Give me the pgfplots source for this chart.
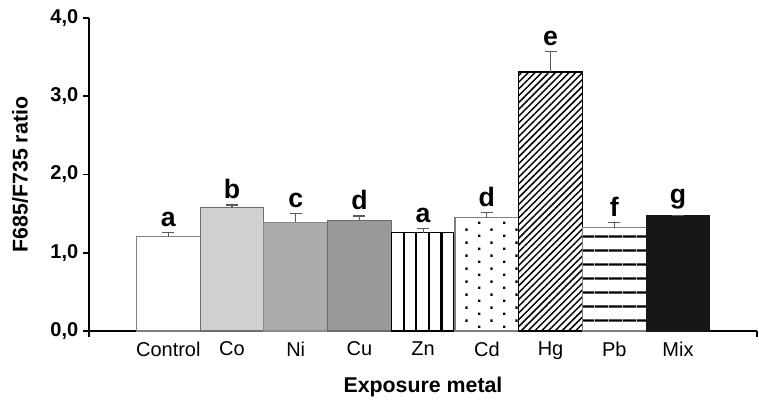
\documentclass[border=0pt]{standalone}
\usepackage{pgfplots}
\pgfplotsset{compat=1.18}
\usepackage{fontspec}
\setmainfont{Liberation Sans}
\usetikzlibrary{patterns,patterns.meta}
\definecolor{cco}{HTML}{D0D0D0}
\definecolor{cni}{HTML}{ABABAB}
\definecolor{ccu}{HTML}{999999}
\definecolor{cmix}{HTML}{161616}
\definecolor{edge}{HTML}{6E6E6E}
\definecolor{errc}{HTML}{5A5A5A}
\pgfdeclarepatternformonly{cddots}{\pgfpointorigin}{\pgfqpoint{18.9pt}{9.5pt}}{\pgfqpoint{18.9pt}{9.5pt}}{%
  \pgfpathrectangle{\pgfqpoint{0pt}{0pt}}{\pgfqpoint{1.8pt}{1.8pt}}%
  \pgfpathrectangle{\pgfqpoint{9.45pt}{4.75pt}}{\pgfqpoint{1.8pt}{1.8pt}}%
  \pgfusepath{fill}}
\pgfplotsset{
  mybar/.style={ybar, bar width=47.8pt, bar shift=0pt, draw=edge, line width=0.8pt,
    error bars/y dir=plus, error bars/y explicit,
    error bars/error bar style={errc, line width=0.8pt},
    error bars/error mark options={rotate=90, errc, line width=0.8pt, mark size=4.5pt}},
}
\begin{document}
\begin{tikzpicture}
\begin{axis}[
  scale only axis, width=501pt, height=234.75pt,
  xmin=-1.245, xmax=9.24, ymin=0, ymax=4,
  axis x line=bottom, axis y line=left,
  axis line style={-, line width=1.5pt, black},
  xtick={0,...,8},
  xticklabels={Control,Co,Ni,Cu,Zn,Cd,Hg,Pb,Mix},
  xtick style={draw=none},
  extra x ticks={-1.245,9.24},
  extra x tick labels={},
  extra x tick style={xtick style={draw=black, line width=1.2pt}},
  ytick={0,1,2,3,4},
  ytick style={black, line width=1.2pt},
  tick align=outside, major tick length=4.5pt,
  /pgf/number format/assume math mode=true,
  y tick label style={/pgf/number format/.cd, use comma, fixed, fixed zerofill, precision=1, /tikz/.cd,
    font=\bfseries\fontsize{15}{15}\selectfont},
  x tick label style={font=\fontsize{15}{15}\selectfont},
  xlabel={Exposure metal}, ylabel={F685/F735 ratio},
  xlabel style={font=\bfseries\fontsize{16}{16}\selectfont, at={(axis description cs:0.5,-0.18)}, anchor=center},
  ylabel style={font=\bfseries\fontsize{16}{16}\selectfont, at={(axis description cs:-0.1033,0.5)}, anchor=center},
  clip=false,
]
\coordinate (bl) at (rel axis cs:0,0);
\coordinate (tr) at (rel axis cs:1,1);
% Control
\addplot[mybar, fill=white, draw=gray] coordinates {(0,1.205) += (0,0.05)};
% Co
\addplot[mybar, fill=cco] coordinates {(1,1.58) += (0,0.03)};
% Ni
\addplot[mybar, fill=cni, draw=cni!80!black] coordinates {(2,1.39) += (0,0.11)};
% Cu
\addplot[mybar, fill=ccu, draw=ccu!70!black] coordinates {(3,1.415) += (0,0.055)};
% Zn
\addplot[mybar, fill=white, draw=black, postaction={pattern={Lines[angle=90,distance=9.4pt,line width=1.8pt,xshift=2pt]}, pattern color=black}] coordinates {(4,1.255) += (0,0.055)};
% Cd
\addplot[mybar, fill=white, draw=gray, postaction={pattern=cddots, pattern color=black}] coordinates {(5,1.45) += (0,0.06)};
% Hg
\addplot[mybar, fill=white, draw=black, postaction={pattern={Lines[angle=45,distance=3.6pt,line width=1.1pt]}, pattern color=black}] coordinates {(6,3.31) += (0,0.26)};
% Pb
\addplot[mybar, fill=white, draw=gray, postaction={pattern={Lines[angle=0,distance=10.5pt,line width=1.8pt]}, pattern color=black}] coordinates {(7,1.32) += (0,0.07)};
% Mix
\addplot[mybar, fill=cmix, draw=cmix] coordinates {(8,1.47) += (0,0.01)};
% letters
\addplot[draw=none, mark=none, nodes near coords, point meta=explicit symbolic,
  nodes near coords style={anchor=south, yshift=1pt, font=\bfseries\fontsize{20}{20}\selectfont}]
  table[meta=lab] {
x y lab
0 1.255 a
1 1.61 b
2 1.50 c
3 1.47 d
4 1.31 a
5 1.51 d
6 3.57 e
7 1.39 f
8 1.48 g
};
\end{axis}
\pgfresetboundingbox
\path (bl) ++(-66.75pt,-54.75pt) coordinate (A);
\path (tr) ++(1.5pt,13.5pt) coordinate (B);
\useasboundingbox (A) rectangle (B);
\end{tikzpicture}
\end{document}
